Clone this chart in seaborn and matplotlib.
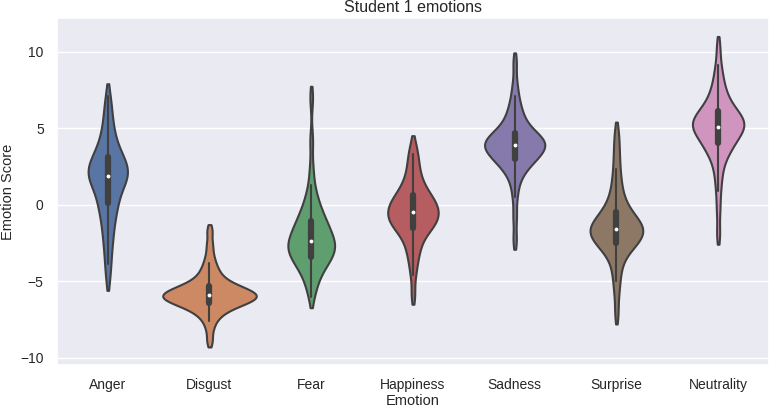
import numpy as np
import pandas as pd
import matplotlib
matplotlib.use("Agg")
import matplotlib.pyplot as plt
import seaborn as sns

emotions = ["Anger", "Disgust", "Fear", "Happiness", "Sadness", "Surprise", "Neutrality"]

anger = [-4.8, -3.9, -3.2, -2.6, -2.1, -1.7, -1.3, -0.9, -0.6, -0.3, -0.1,
         0.1,
         0.35, 0.6, 0.8, 1.0, 1.2, 1.35, 1.5, 1.6, 1.7, 1.8,
         1.9,
         2.0, 2.1, 2.2, 2.3, 2.4, 2.5, 2.6, 2.75, 2.85, 3.0,
         3.1,
         3.3, 3.5, 3.7, 3.9, 4.2, 4.5, 4.9, 5.3, 5.8, 6.4, 7.1]
disgust = [-8.9, -8.1, -7.6, -7.3, -7.1, -6.95, -6.8, -6.7, -6.6, -6.52, -6.45,
           -6.4,
           -6.35, -6.3, -6.25, -6.2, -6.15, -6.1, -6.05, -6.0, -5.97, -5.93,
           -5.9,
           -5.86, -5.82, -5.78, -5.73, -5.68, -5.62, -5.56, -5.5, -5.43, -5.37,
           -5.3,
           -5.2, -5.1, -4.95, -4.8, -4.6, -4.4, -4.1, -3.8, -3.3, -2.6, -1.7]
fear = [-6.0, -5.4, -5.0, -4.7, -4.4, -4.2, -4.0, -3.85, -3.7, -3.6, -3.5,
        -3.4,
        -3.3, -3.2, -3.1, -3.0, -2.9, -2.8, -2.7, -2.6, -2.55, -2.5,
        -2.4,
        -2.3, -2.2, -2.1, -2.0, -1.85, -1.7, -1.55, -1.4, -1.3, -1.2,
        -1.1,
        -0.9, -0.7, -0.5, -0.25, 0.0, 0.3, 0.7, 1.3, 2.4, 4.2, 7.0]
happiness = [-5.9, -4.6, -3.9, -3.4, -3.0, -2.7, -2.4, -2.15, -1.9, -1.75, -1.6,
             -1.5,
             -1.4, -1.3, -1.2, -1.1, -1.0, -0.9, -0.8, -0.7, -0.65, -0.58,
             -0.5,
             -0.4, -0.3, -0.2, -0.1, 0.0, 0.08, 0.17, 0.27, 0.38, 0.5,
             0.6,
             0.75, 0.9, 1.1, 1.3, 1.5, 1.8, 2.1, 2.5, 2.9, 3.3, 3.9]
sadness = [-2.3, -0.8, 0.5, 1.3, 1.8, 2.1, 2.35, 2.55, 2.7, 2.82, 2.92,
           3.0,
           3.1, 3.2, 3.3, 3.4, 3.5, 3.58, 3.66, 3.74, 3.8, 3.85,
           3.9,
           3.96, 4.02, 4.08, 4.14, 4.2, 4.27, 4.35, 4.45, 4.55, 4.63,
           4.7,
           4.85, 5.0, 5.2, 5.4, 5.65, 5.9, 6.2, 6.6, 7.1, 7.9, 9.3]
surprise = [-7.1, -5.8, -5.0, -4.4, -3.9, -3.5, -3.2, -2.95, -2.8, -2.68, -2.58,
            -2.5,
            -2.4, -2.3, -2.2, -2.1, -2.0, -1.92, -1.84, -1.76, -1.7, -1.65,
            -1.6,
            -1.52, -1.44, -1.36, -1.28, -1.2, -1.1, -1.0, -0.85, -0.72, -0.6,
            -0.5,
            -0.3, -0.1, 0.15, 0.45, 0.8, 1.2, 1.7, 2.3, 3.0, 3.8, 4.7]
neutrality = [-1.9, -0.3, 0.9, 1.7, 2.3, 2.8, 3.15, 3.4, 3.6, 3.78, 3.9,
              4.0,
              4.15, 4.3, 4.45, 4.6, 4.72, 4.82, 4.9, 4.97, 5.03, 5.07,
              5.1,
              5.2, 5.3, 5.4, 5.48, 5.56, 5.64, 5.72, 5.8, 5.9, 6.0,
              6.1,
              6.25, 6.4, 6.6, 6.8, 7.05, 7.3, 7.6, 8.0, 8.5, 9.1, 10.3]

series = [anger, disgust, fear, happiness, sadness, surprise, neutrality]
y_ticks = [-10, -5, 0, 5, 10]

df = pd.DataFrame({
    "Emotion": [e for e, vals in zip(emotions, series) for _ in vals],
    "Emotion Score": [v for vals in series for v in vals],
})

sns.set_theme(style="darkgrid")
plt.rcParams["font.family"] = ["Liberation Sans", "DejaVu Sans"]

fig = plt.figure(figsize=(7.69, 4.07), dpi=100)
ax = fig.add_axes([0.074, 0.103, 0.926, 0.853])

sns.violinplot(
    data=df, x="Emotion", y="Emotion Score", hue="Emotion", order=emotions,
    hue_order=emotions, palette="deep", legend=False, ax=ax,
    inner="box", cut=1, bw_adjust=0.65, density_norm="area", common_norm=True,
    width=0.92, linewidth=1.5, linecolor="#404040",
    inner_kws=dict(box_width=4.5, whis_width=1.5, marker="."),
)

ax.set_ylim(-10.48, 12.2)
ax.set_yticks(y_ticks)
ax.set_xlim(-0.5, 6.5)
ax.tick_params(axis="both", labelsize=10, colors="#262626")
ax.set_xlabel("Emotion", fontsize=10.5, labelpad=1)
ax.set_ylabel("Emotion Score", fontsize=10.5)
ax.set_title("Student 1 emotions", fontsize=11.5, pad=4)

fig.savefig("out.png", dpi=100)
